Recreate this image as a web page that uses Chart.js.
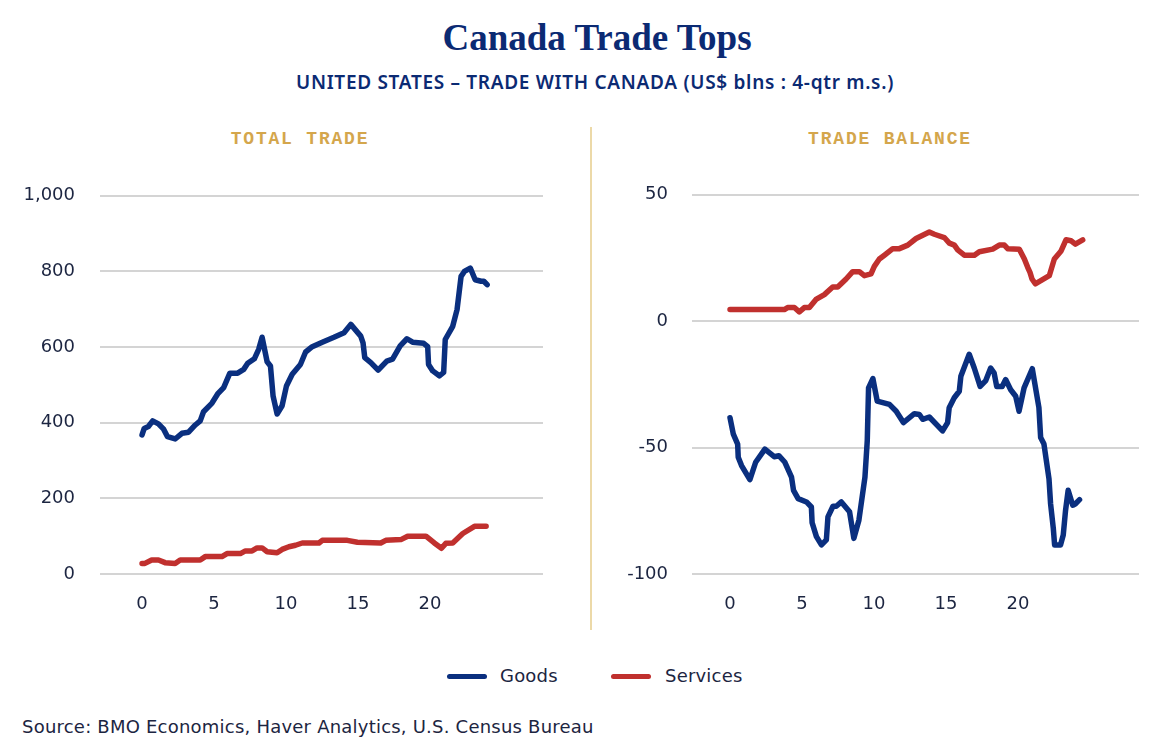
<!DOCTYPE html>
<html>
<head>
<meta charset="utf-8">
<script src="https://cdn.jsdelivr.net/npm/chart.js@4.4.1/dist/chart.umd.min.js"></script>
<style>
  html, body { margin:0; padding:0; background:#fff; }
  body { width:1170px; height:754px; position:relative; overflow:hidden; font-family:"DejaVu Sans", sans-serif; }
  .abs { position:absolute; white-space:nowrap; }
  #title { left:12px; width:1170px; top:18px; text-align:center; font-family:"Liberation Serif", serif; font-weight:bold; font-size:37px; line-height:40px; color:#0b2a73; }
  #subtitle { left:10px; width:1170px; top:71px; text-align:center; font-family:"Noto Sans", sans-serif; font-size:19px; font-weight:600; letter-spacing:0.7px; line-height:22px; color:#0b2a73; }
  .ptitle { top:128px; text-align:center; font-family:"Liberation Mono", monospace; font-weight:bold; font-size:18px; line-height:22px; letter-spacing:1.8px; color:#d4a64c; }
  #divider { left:590px; top:127px; width:2px; height:503px; background:#ecd9a8; }
  .legsw { top:674px; width:40px; height:5px; border-radius:3px; }
  .legtx { top:664px; font-size:18px; line-height:24px; letter-spacing:0.2px; color:#1c2541; }
  #source { left:22px; top:715px; font-size:18px; line-height:24px; letter-spacing:0.22px; color:#1c2541; }
  canvas { position:absolute; }
</style>
</head>
<body>
<div id="title" class="abs">Canada Trade Tops</div>
<div id="subtitle" class="abs">UNITED STATES – TRADE WITH CANADA (US$ blns : 4-qtr m.s.)</div>
<div class="abs ptitle" style="left:100px;width:400px;">TOTAL TRADE</div>
<div class="abs ptitle" style="left:692px;width:396px;">TRADE BALANCE</div>
<div id="divider" class="abs"></div>
<canvas id="c1" width="580" height="464" style="left:0;top:160px;"></canvas>
<canvas id="c2" width="578" height="464" style="left:592px;top:160px;"></canvas>
<div class="abs legsw" style="left:447px;background:#0a2f7f;"></div>
<div class="abs legtx" style="left:500px;">Goods</div>
<div class="abs legsw" style="left:611px;background:#c0302e;"></div>
<div class="abs legtx" style="left:665px;">Services</div>
<div id="source" class="abs">Source: BMO Economics, Haver Analytics, U.S. Census Bureau</div>
<script>
// ---- Data ----
const xTickValues = [0, 5, 10, 15, 20];

// Total trade: Goods
const totalGoodsX = [0, 0.15, 0.44, 0.74, 1.14, 1.5, 1.77, 2.3, 2.77, 3.23, 3.7, 4.04, 4.27, 4.86, 5.25, 5.67, 6.1, 6.64, 7.06, 7.34, 7.8, 8.1, 8.34, 8.69, 8.92, 9.1, 9.38, 9.73, 10.03, 10.43, 11.0, 11.36, 11.82, 12.52, 13.33, 14.03, 14.5, 15.19, 15.35, 15.47, 15.89, 16.4, 17.0, 17.4, 17.93, 18.4, 18.79, 19.56, 19.84, 19.9, 20.19, 20.65, 20.95, 21.06, 21.58, 21.88, 22.16, 22.39, 22.8, 23.14, 23.55, 23.74, 23.97];
const totalGoodsY = [368, 385, 390, 405, 397, 383, 363, 357, 372, 375, 394, 405, 429, 452, 476, 493, 531, 531, 541, 557, 569, 594, 626, 561, 550, 471, 423, 445, 497, 528, 554, 587, 601, 613, 626, 638, 660, 629, 611, 572, 559, 539, 563, 568, 603, 622, 613, 610, 601, 554, 537, 524, 533, 620, 655, 699, 787, 800, 809, 778, 774, 774, 765];

// Total trade: Services
const totalServX = [0, 0.2, 0.67, 1.14, 1.6, 2.3, 2.65, 4.04, 4.39, 5.55, 5.9, 6.83, 7.18, 7.64, 7.99, 8.34, 8.69, 9.38, 9.73, 10.2, 10.66, 11.13, 12.29, 12.52, 14.26, 14.96, 16.58, 16.93, 17.98, 18.45, 19.72, 20.3, 20.8, 21.1, 21.58, 22.28, 23.09, 23.9];
const totalServY = [28, 28, 37, 37, 30, 28, 37, 37, 46, 46, 54, 54, 61, 61, 69, 69, 59, 56, 65, 72, 76, 82, 82, 89, 89, 84, 82, 89, 91, 100, 100, 82, 68, 81, 82, 107, 126, 126];

// Trade balance: Goods
const balGoodsX = [0, 0.23, 0.53, 0.57, 0.8, 1.38, 1.78, 2.42, 3.07, 3.39, 3.81, 4.27, 4.41, 4.73, 5.31, 5.65, 5.7, 6.0, 6.35, 6.69, 6.8, 7.15, 7.38, 7.73, 8.3, 8.6, 8.95, 9.37, 9.53, 9.62, 9.92, 10.22, 11.07, 11.54, 12.04, 12.8, 13.15, 13.38, 13.84, 14.76, 15.11, 15.22, 15.57, 15.92, 16.03, 16.61, 16.96, 17.37, 17.76, 18.1, 18.34, 18.52, 18.9, 19.14, 19.49, 19.84, 20.07, 20.42, 20.99, 21.45, 21.57, 21.8, 22.15, 22.26, 22.45, 22.54, 22.95, 23.14, 23.3, 23.48, 23.8, 23.99, 24.27];
const balGoodsY = [-38.2, -44.7, -48.6, -53.8, -57.1, -62.7, -55.8, -50.6, -53.6, -53.2, -55.8, -61.7, -66.9, -70.2, -71.5, -73.5, -79.7, -85.2, -88.5, -86.5, -77.4, -73.2, -73.2, -71.5, -75.4, -85.9, -78.7, -61.7, -47.3, -26.4, -22.7, -31.6, -32.9, -35.6, -40.1, -36.6, -36.9, -38.8, -37.9, -43.4, -40.1, -34.2, -30.3, -27.7, -21.8, -13.1, -18.5, -25.8, -23.5, -18.5, -20.5, -25.8, -25.8, -23.1, -27.1, -29.7, -35.6, -26.4, -18.8, -34.2, -46.0, -48.6, -62.4, -72.2, -82.0, -88.5, -88.5, -84.6, -74.8, -66.9, -72.8, -72.2, -70.6];

// Trade balance: Services
const balServX = [0, 3.77, 4.0, 4.47, 4.81, 5.16, 5.51, 5.97, 6.55, 7.13, 7.48, 8.06, 8.52, 8.98, 9.33, 9.79, 10.02, 10.37, 10.72, 11.3, 11.76, 12.34, 12.92, 13.84, 14.19, 14.88, 15.23, 15.58, 15.81, 16.27, 16.97, 17.31, 18.24, 18.7, 19.05, 19.28, 20.09, 20.44, 20.67, 20.83, 20.97, 21.2, 22.17, 22.52, 22.99, 23.33, 23.68, 23.98, 24.49];
const balServY = [4.6, 4.6, 5.4, 5.4, 3.7, 5.4, 5.4, 8.6, 10.5, 13.5, 13.5, 16.7, 19.6, 19.6, 18.0, 18.7, 21.7, 24.6, 26.1, 28.7, 28.7, 30.1, 32.7, 35.3, 34.4, 33.1, 30.9, 30.1, 28.2, 26.1, 26.1, 27.5, 28.5, 30.1, 30.1, 28.7, 28.5, 24.6, 21.3, 19.3, 16.7, 14.8, 18.0, 24.6, 27.8, 32.2, 31.8, 30.5, 32.2];

// ---- Styling ----
const GOODS = '#0a2f7f', SERV = '#c0302e';
const tickFont = { family: 'DejaVu Sans', size: 18, weight: 'normal' };
const tickColor = '#1c2541';

function pts(xs, ys) { return xs.map((x, i) => ({ x: x, y: ys[i] })); }
function ds(xs, ys, color) {
  return { data: pts(xs, ys), borderColor: color, borderWidth: 5.5, pointRadius: 0, tension: 0,
           borderCapStyle: 'round', borderJoinStyle: 'round', fill: false };
}
function makeChart(id, datasets, xmin, xmax, ymin, ymax, step, padRight, yPad) {
  return new Chart(document.getElementById(id), {
    type: 'line',
    data: { datasets: datasets },
    options: {
      responsive: false, animation: false, devicePixelRatio: 1,
      layout: { padding: { top: 34, right: padRight, left: 0, bottom: 0 } },
      plugins: { legend: { display: false }, tooltip: { enabled: false } },
      scales: {
        x: {
          type: 'linear', min: xmin, max: xmax,
          afterBuildTicks: s => { s.ticks = xTickValues.map(v => ({ value: v })); },
          afterFit: s => { s.height = 50; },
          grid: { display: false }, border: { display: false },
          ticks: { font: tickFont, color: tickColor, padding: 12, maxRotation: 0, autoSkip: false }
        },
        y: {
          min: ymin, max: ymax,
          afterFit: s => { s.width = 100; },
          grid: { color: '#d4d4d4', lineWidth: 2, drawTicks: false },
          border: { display: false },
          ticks: { stepSize: step, font: tickFont, color: tickColor, padding: yPad,
                   callback: v => v.toLocaleString('en-US') }
        }
      }
    }
  });
}

makeChart('c1', [ds(totalGoodsX, totalGoodsY, GOODS), ds(totalServX, totalServY, SERV)],
          -2.92, 27.85, 0, 1000, 200, 37, 25);
makeChart('c2', [ds(balGoodsX, balGoodsY, GOODS), ds(balServX, balServY, SERV)],
          -2.64, 28.4, -100, 50, 50, 31, 24);
</script>
</body>
</html>
